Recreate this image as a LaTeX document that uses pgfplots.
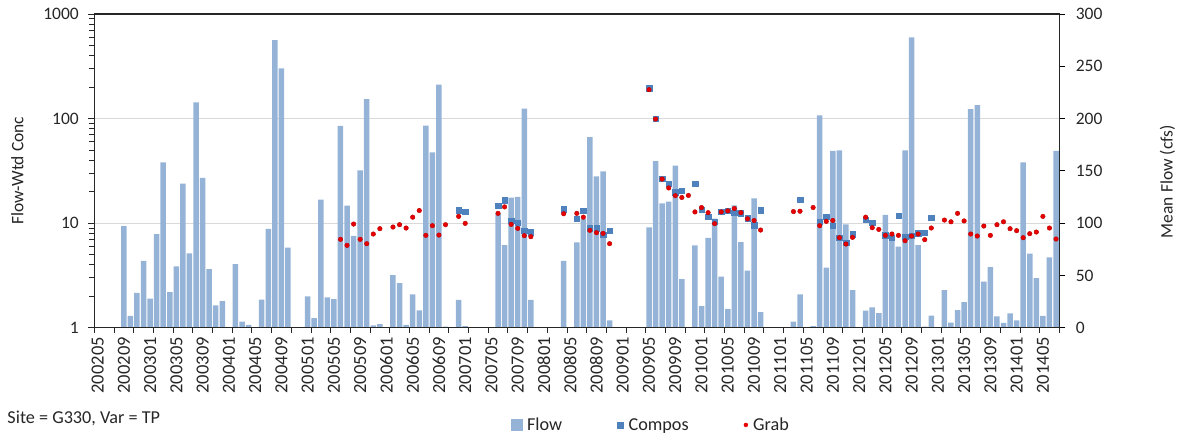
\documentclass[border=0pt]{standalone}
\usepackage{fontspec}
\setmainfont{Carlito}
\usepackage{pgfplots}
\usepackage{pgfplotstable}
\pgfplotsset{compat=1.18}
\definecolor{flowblue}{RGB}{149,179,215}
\definecolor{compblue}{RGB}{79,129,189}
\definecolor{grabred}{RGB}{230,0,0}
\definecolor{grabdark}{RGB}{190,0,0}
\definecolor{gridgray}{RGB}{217,217,217}
\definecolor{axisdark}{RGB}{38,38,38}
\newcommand\yf{\fontsize{17.5}{20}\selectfont}
\newcommand\xf{\fontsize{18.5}{21}\selectfont}
\newcommand\tf{\fontsize{17.5}{20}\selectfont}
\newcommand\lf{\fontsize{18.2}{21}\selectfont}

\pgfplotstableread{
i v
4 97.2
5 11.2
6 33.2
7 63.8
8 27.7
9 89.6
10 158
11 34.1
12 58.7
13 137.7
14 71.1
15 215.5
16 143.4
17 56.1
18 21.4
19 25.5
21 60.9
22 5.7
23 2.6
25 26.8
26 94.4
27 275
28 248
29 76.5
32 30
33 9.2
34 122.4
35 29
36 27.4
37 192.9
38 116.7
39 87.7
40 150.5
41 218.7
42 2.2
43 3.5
45 50.4
46 42.7
47 2.6
48 31.9
49 16.6
50 193.2
51 167.7
52 232.4
53 1
55 26.5
56 1.6
61 109.3
62 79
63 124.3
64 125
65 209.4
66 26.5
71 63.8
73 81.6
74 103.9
75 182.3
76 144.7
77 149.5
78 7
84 96
85 159.4
86 118.9
87 120.5
88 155
89 46.5
91 78.7
92 20.7
93 86
94 104.2
95 48.8
96 17.9
97 117
98 81.9
99 54.5
100 123.7
101 15
106 5.7
107 31.9
109 1.6
110 203
111 57.4
112 169
113 169.6
114 98.8
115 36
117 16.3
118 19.4
119 14
120 108
121 86
122 77.5
123 169.6
124 277.7
125 79
126 1
127 11.5
129 36
130 4.8
131 16.9
132 24.5
133 209.1
134 212.9
135 44
136 58
137 10.8
138 4.5
139 13.7
140 7
141 158.1
142 70.8
143 47.5
144 11.2
145 67.3
146 169
}\flowtab

\pgfplotstableread{
i v
55 13.3
56 12.8
61 14.7
62 16.6
63 10.5
64 10.1
65 8.47
66 8.16
71 13.6
73 11.0
74 13.1
75 8.98
76 8.98
77 7.75
78 8.47
84 196
85 99.7
86 26.6
87 23.8
88 19.7
89 20.4
91 23.7
92 13.5
93 11.5
94 10.3
95 12.8
96 13.2
97 12.6
98 12.4
99 11.1
100 9.59
101 13.3
107 16.8
110 10.3
111 11.5
112 9.45
113 7.26
114 6.5
115 7.87
117 10.8
118 10.1
120 7.69
121 7.26
122 11.8
123 7.42
124 7.59
125 7.98
126 8.1
127 11.3
}\comptab

\pgfplotstableread{
i v
37 7.0
38 6.13
39 9.8
40 7.0
41 6.36
42 7.87
43 8.85
45 9.18
46 9.66
47 8.98
48 11.4
49 13.2
50 7.64
51 9.45
52 7.69
53 9.66
55 11.6
56 9.95
61 12.4
62 14.3
63 9.73
64 8.91
65 7.59
66 7.42
71 12.3
73 12.4
74 11.4
75 8.53
76 8.1
77 7.98
78 6.36
84 189
85 99
86 26.4
87 21.7
88 18.3
89 17.6
90 18.4
91 12.8
92 14.1
93 12.6
94 9.88
95 12.8
96 13.1
97 13.8
98 12.6
99 11.0
100 10.6
101 8.59
106 12.9
107 13.0
109 14.1
110 9.45
111 10.4
112 10.6
113 7.26
114 6.31
115 7.31
117 11.4
118 9.04
119 8.71
120 7.64
121 7.87
122 7.64
123 6.79
124 7.53
125 7.87
126 6.95
127 8.98
129 10.7
130 10.3
131 12.4
132 10.5
133 7.87
134 7.53
135 9.38
136 7.64
137 9.66
138 10.3
139 8.85
140 8.47
141 7.26
142 7.93
143 8.22
144 11.6
145 8.98
146 7.05
}\grabtab

\begin{document}
\begin{tikzpicture}
% Flow bars on the right axis
\begin{axis}[
  scale only axis, width=965pt, height=313.7pt,
  xmin=-0.5, xmax=146.5, ymin=0, ymax=300,
  axis x line=none, axis y line*=right,
  y axis line style={-, black, line width=0.9pt},
  ytick={0,50,100,150,200,250,300},
  yticklabels={0,50,100,150,200,250,300},
  tick align=outside, major tick length=6pt,
  ytick style={black, line width=0.8pt},
  extra y ticks={100,200}, extra y tick labels={},
  extra y tick style={grid=major, major tick length=0pt},
  major grid style={gridgray, line width=1pt},
  yticklabel style={font=\yf, text=black!85, xshift=7pt},
  ylabel={Mean Flow (cfs)},
  ylabel style={font=\tf, text=black!85, at={(axis description cs:1.1121,0.4654)}, anchor=center},
]
\addplot[ybar, bar width=5.5pt, fill=flowblue, draw=none] table[x=i, y=v] {\flowtab};
\end{axis}
% Concentrations on the left log axis
\begin{axis}[
  scale only axis, width=965pt, height=313.7pt,
  xmin=-0.5, xmax=146.5, ymode=log, ymin=1, ymax=1000,
  axis line style={axisdark, line width=1.2pt},
  ytick pos=left, xtick pos=left,
  tick align=outside, major tick length=6pt, minor tick length=5pt,
  ytick={1,10,100,1000}, yticklabels={1,10,100,1000},
  minor ytick={2,3,4,5,6,7,8,9,20,30,40,50,60,70,80,90,200,300,400,500,600,700,800,900},
  every tick/.style={axisdark, line width=0.8pt},
  xtick={0,4,...,144},
  xticklabels={200205,200209,200301,200305,200309,200401,200405,200409,200501,200505,200509,200601,200605,200609,200701,200705,200709,200801,200805,200809,200901,200905,200909,201001,201005,201009,201101,201105,201109,201201,201205,201209,201301,201305,201309,201401,201405},
  major x tick style={draw=none},
  minor xtick={-0.5,2.5,...,146.5},
  xticklabel style={rotate=90, anchor=east, font=\xf, text=black!85},
  yticklabel style={font=\yf, text=black!85, xshift=-6pt},
  ylabel={Flow-Wtd Conc},
  ylabel style={font=\tf, text=black!85, at={(axis description cs:-0.0796,0.5)}, anchor=center},
  legend style={draw=none, fill=none, font=\lf, text=black!85, legend columns=3,
    inner sep=0pt, outer sep=0pt, nodes={inner sep=0pt},
    at={(axis description cs:0.4315,-0.310)}, anchor=west,
    /tikz/every odd column/.append style={column sep=5pt},
    /tikz/every even column/.append style={column sep=55pt}},
]
\addlegendimage{only marks, mark=square*, mark size=3.5pt, color=flowblue,
  legend image code/.code={\fill[flowblue] (0pt,-5.5pt) rectangle (11pt,5.5pt);}}
\addlegendentry{Flow}
\addplot[only marks, mark=square*, mark size=2.75pt, color=compblue,
  legend image code/.code={\fill[compblue] (0pt,-3pt) rectangle (6pt,3pt);}]
  table[x=i, y=v] {\comptab};
\addlegendentry{Compos}
\addplot[only marks, mark=*, mark size=2.3pt, draw=grabdark, fill=grabred, line width=0.4pt,
  legend image code/.code={\fill[grabred] (2pt,0pt) circle (2pt);}]
  table[x=i, y=v] {\grabtab};
\addlegendentry{Grab}
\end{axis}
\node[anchor=base west, inner sep=0pt, font=\lf, text=black!85] at (-87pt,-95.6pt) {Site = G330, Var = TP};
\pgfresetboundingbox
\path[use as bounding box] (-94.3pt,-109.3pt) rectangle (1086.7pt,327.7pt);
\end{tikzpicture}
\end{document}
